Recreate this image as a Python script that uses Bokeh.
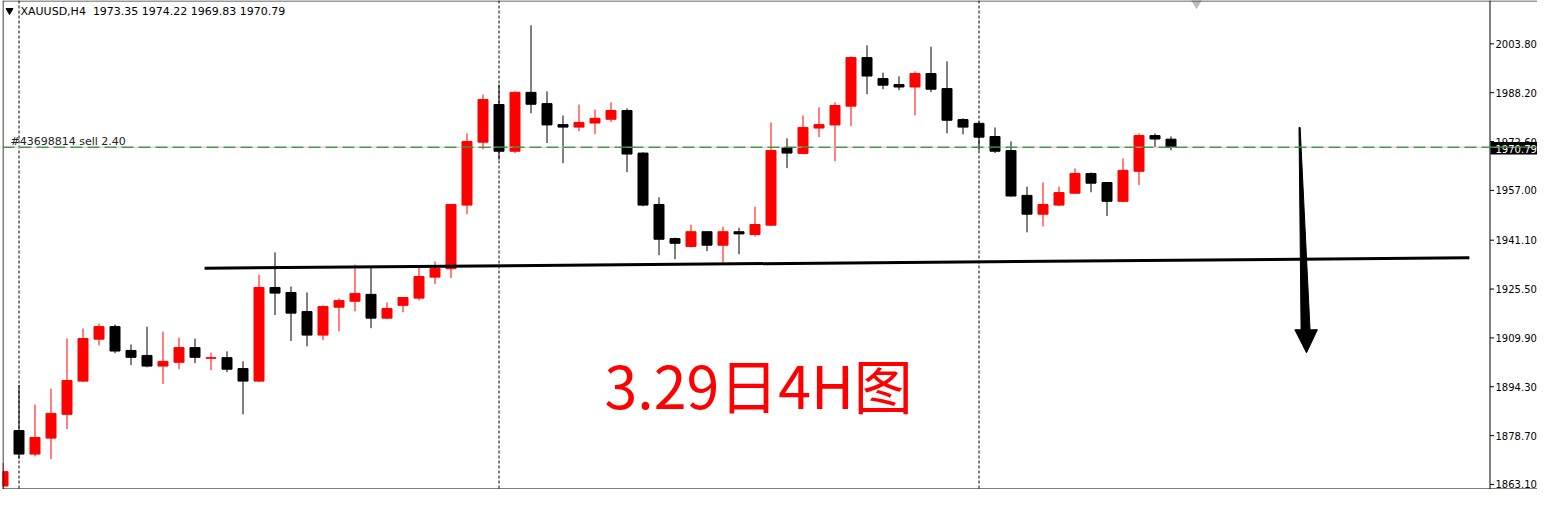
from bokeh.plotting import figure
from bokeh.models import Label, Range1d, ColumnDataSource, Span
from bokeh.core.properties import value
from bokeh.embed import file_html
from bokeh.resources import INLINE

# ---- data (XAUUSD H4), candle index -1 .. 72 ----
first_index = -1
opens = [1862.6, 1880.3, 1872.8, 1877.9, 1885.5, 1896.1, 1909.5, 1913.5, 1905.9, 1904.3,
         1900.9, 1902.1, 1906.8, 1903.4, 1903.6, 1900.1, 1896.1, 1926.0, 1924.4, 1918.3,
         1910.8, 1919.7, 1921.6, 1923.8, 1916.2, 1920.3, 1922.6, 1929.3, 1932.0, 1952.3,
         1972.4, 1984.4, 1969.5, 1988.3, 1984.7, 1978.0, 1977.2, 1978.5, 1979.7, 1982.5,
         1968.9, 1952.5, 1941.6, 1939.1, 1943.8, 1939.5, 1943.8, 1942.9, 1945.9, 1970.7,
         1968.8, 1976.9, 1977.9, 1983.9, 1999.4, 1992.7, 1990.8, 1990.0, 1994.3, 1989.5,
         1979.6, 1978.4, 1974.2, 1969.7, 1955.4, 1949.4, 1952.3, 1956.1, 1962.4, 1959.5,
         1953.5, 1963.1, 1974.5, 1973.35]
highs = [1870.0, 1894.9, 1888.6, 1893.7, 1909.7, 1912.9, 1914.5, 1914.2, 1907.8, 1913.5,
         1911.9, 1910.0, 1909.7, 1905.2, 1905.6, 1902.4, 1930.1, 1937.2, 1926.3, 1924.4,
         1920.3, 1922.5, 1933.3, 1932.4, 1921.2, 1922.8, 1932.4, 1934.3, 1952.5, 1975.2,
         1987.6, 1990.8, 1988.6, 2009.7, 1988.6, 1980.9, 1984.4, 1982.8, 1985.1, 1983.2,
         1969.2, 1954.8, 1941.9, 1946.1, 1943.8, 1945.4, 1945.1, 1951.8, 1978.7, 1973.6,
         1980.9, 1983.5, 1985.1, 1999.8, 2003.3, 1994.6, 1993.4, 1995.0, 2002.9, 1998.2,
         1980.0, 1979.0, 1977.1, 1972.6, 1958.2, 1959.5, 1958.2, 1964.0, 1962.7, 1959.5,
         1967.2, 1975.2, 1975.2, 1974.22]
lows = [1860.6, 1871.3, 1872.1, 1871.2, 1880.8, 1895.8, 1907.5, 1905.0, 1901.2, 1900.5,
        1895.2, 1899.9, 1901.8, 1899.6, 1899.0, 1885.5, 1895.8, 1917.2, 1908.9, 1907.2,
        1909.2, 1912.0, 1918.4, 1913.0, 1915.9, 1918.1, 1921.9, 1927.1, 1929.0, 1949.4,
        1970.1, 1966.8, 1968.9, 1981.6, 1972.1, 1965.7, 1975.9, 1974.9, 1978.8, 1962.8,
        1951.9, 1936.3, 1935.0, 1938.8, 1937.6, 1934.1, 1936.6, 1942.3, 1945.6, 1964.1,
        1968.5, 1974.0, 1966.3, 1977.5, 1987.7, 1989.3, 1989.0, 1981.0, 1988.4, 1975.2,
        1974.9, 1969.7, 1968.9, 1955.0, 1943.6, 1945.5, 1952.0, 1955.9, 1956.4, 1948.8,
        1953.2, 1958.7, 1970.8, 1969.83]
closes = [1867.2, 1872.8, 1878.1, 1885.8, 1896.3, 1909.7, 1913.5, 1905.7, 1903.7, 1900.9,
          1902.4, 1906.8, 1903.7, 1903.6, 1899.9, 1896.1, 1926.0, 1924.2, 1917.8, 1910.8,
          1919.9, 1921.8, 1924.1, 1916.2, 1919.3, 1922.8, 1929.5, 1932.1, 1952.5, 1972.6,
          1986.0, 1969.5, 1988.3, 1984.5, 1977.9, 1977.2, 1978.7, 1980.0, 1982.5, 1968.6,
          1952.3, 1941.4, 1940.1, 1943.8, 1939.5, 1943.8, 1943.1, 1946.1, 1969.7, 1968.9,
          1977.1, 1978.0, 1984.1, 1999.4, 1993.5, 1990.6, 1990.0, 1994.3, 1989.3, 1979.4,
          1977.2, 1974.0, 1969.5, 1955.2, 1949.4, 1952.5, 1956.3, 1962.4, 1959.3, 1953.5,
          1963.4, 1974.5, 1973.4, 1970.79]

tick_values = [1863.10, 1878.70, 1894.30, 1909.90, 1925.50, 1941.10, 1957.00, 1972.60, 1988.20, 2003.80]
separator_index = [0, 30, 60]
order_price = 1970.79
order_text = "#43698814 sell 2.40"
header_text = "XAUUSD,H4\u00a0 1973.35 1974.22 1969.83 1970.79"
title_text = "3.29日4H图"

# hand-drawn support line and arrow (index, price)
trend_x = [11.6, 90.65]
trend_y = [1932.15, 1935.47]
arrow_x = [80.0, 80.07, 80.69, 81.15, 80.47, 79.74, 80.13]
arrow_y = [1977.1, 1977.1, 1912.5, 1912.5, 1905.15, 1912.5, 1912.5]

# ---- layout constants (pixels) ----
W, H = 1537, 489
FL, FR, FT, FB = 2, 1537, 0, 489   # frame edges
AXIS_PX = 1489.5                    # price-scale line
LABEL_PX = 1495                     # price-scale label start
PX_PER_BAR = 16.0
PX_PER_USD = 3.132

def X(px):
    return (px - 18.5) / PX_PER_BAR

def Y(py):
    return 2003.8 - (py - 43.3) / PX_PER_USD

idx = list(range(first_index, first_index + len(opens)))
up = [c >= o for o, c in zip(opens, closes)]
colors = ["#FF0000" if u else "#000000" for u in up]
src = ColumnDataSource(dict(
    x=idx, o=opens, h=highs, l=lows, c=closes,
    top=[max(o, c) for o, c in zip(opens, closes)],
    bottom=[min(o, c) for o, c in zip(opens, closes)],
    color=colors,
))

p = figure(width=W, height=H, output_backend="svg", toolbar_location=None,
           x_range=Range1d(X(FL), X(FR)), y_range=Range1d(Y(FB), Y(FT)),
           y_axis_location=None, x_axis_location=None,
           min_border_left=FL, min_border_top=FT, min_border_bottom=H - FB,
           min_border_right=W - FR)
p.background_fill_color = "white"
p.border_fill_color = "white"
p.outline_line_color = None
p.grid.visible = False

# chart window borders and price scale line
p.add_layout(Span(location=X(FL + 0.5), dimension="height", line_color="black", line_width=1))
p.add_layout(Span(location=Y(FT + 0.5), dimension="width", line_color="#333333", line_width=1))
p.add_layout(Span(location=Y(FB - 0.5), dimension="width", line_color="black", line_width=1))
p.add_layout(Span(location=X(AXIS_PX), dimension="height", line_color="black", line_width=1))

# separators
for s in separator_index:
    p.add_layout(Span(location=s, dimension="height", line_color="black",
                      line_dash="3 2", line_width=1))

# order line
p.add_layout(Span(location=order_price, dimension="width", line_color="#C8C8C8", line_width=1))
p.add_layout(Span(location=order_price, dimension="width", line_color="#007A00",
                  line_width=1, line_dash="12 5"))

# candles
p.segment(x0="x", y0="h", x1="x", y1="l", source=src, line_color="color", line_width=1)
p.vbar(x="x", top="top", bottom="bottom", width=0.625, source=src,
       fill_color="color", line_color="color", line_width=1)

# trend line and arrow
p.line(trend_x, trend_y, line_color="black", line_width=3)
p.patch(arrow_x, arrow_y, fill_color="black", line_color="black", line_width=1)

# price scale: ticks and labels
n = len(tick_values)
p.segment(x0=[X(AXIS_PX)] * n, y0=tick_values, x1=[X(AXIS_PX + 4)] * n, y1=tick_values,
          line_color="black", line_width=1)
p.text(x=[X(LABEL_PX)] * n, y=tick_values, text=["%.2f" % v for v in tick_values],
       text_font=value("DejaVu Sans"), text_font_size=value("10px"),
       text_color="black", text_baseline="middle", text_align="left")

# current price box
p.quad(left=[X(AXIS_PX + 0.5)], right=[X(FR + 10)], top=[Y(141.5)], bottom=[Y(154)],
       fill_color="black", line_color=None)
p.text(x=[X(LABEL_PX)], y=[Y(148)], text=["%.2f" % order_price],
       text_font=value("DejaVu Sans"), text_font_size=value("10px"),
       text_color="white", text_baseline="middle", text_align="left")

# top markers
p.scatter(x=[X(9)], y=[Y(10)], marker="inverted_triangle", size=7, color="black")
p.scatter(x=[X(1196)], y=[Y(0)], marker="inverted_triangle", size=14, color="#BDBDBD")

p.add_layout(Label(x=X(20), y=Y(10.5), text=header_text, text_font="DejaVu Sans",
                   text_font_size="11px", text_color="black", text_baseline="middle"))
p.add_layout(Label(x=X(10), y=Y(140.5), text=order_text, text_font="DejaVu Sans",
                   text_font_size="11px", text_color="#222222", text_baseline="middle"))
p.add_layout(Label(x=X(604), y=Y(382.5), text=title_text, text_font="Noto Sans CJK SC",
                   text_font_size="59px", text_color="#FF0000", text_baseline="alphabetic"))

open("out.html", "w").write(file_html(p, INLINE))
